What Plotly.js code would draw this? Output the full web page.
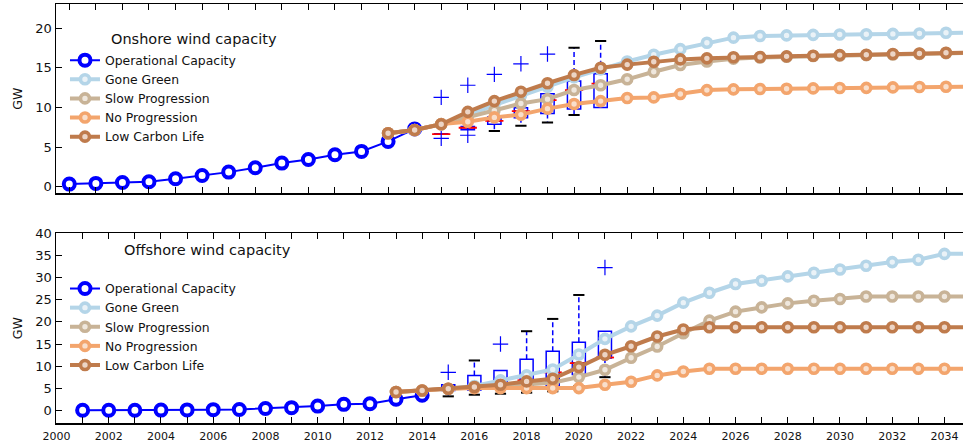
<!DOCTYPE html>
<html>
<head>
<meta charset="utf-8">
<script src="https://cdn.plot.ly/plotly-3.0.1.min.js"></script>
<style>
  html, body { margin: 0; padding: 0; background: #fff; }
  #chart { width: 963px; height: 446px; }
</style>
</head>
<body>
<div id="chart"></div>
<script>
// ---- data (GW) ----
const operationalYears = [2001, 2002, 2003, 2004, 2005, 2006, 2007, 2008, 2009, 2010, 2011, 2012, 2013, 2014];
const onshoreOperational = [0.34, 0.43, 0.55, 0.63, 1.01, 1.43, 1.85, 2.40, 2.99, 3.45, 4.04, 4.46, 5.72, 7.30];
const offshoreOperational = [0.0, 0.0, 0.02, 0.05, 0.1, 0.15, 0.2, 0.4, 0.6, 0.95, 1.35, 1.5, 2.5, 3.4];

const scenarioYears = [2013, 2014, 2015, 2016, 2017, 2018, 2019, 2020, 2021, 2022, 2023, 2024,
                       2025, 2026, 2027, 2028, 2029, 2030, 2031, 2032, 2033, 2034, 2035];

const onshoreGoneGreen = [6.75, 7.15, 7.9, 9.0, 10.3, 11.5, 12.6, 13.8, 14.8, 15.8, 16.65, 17.35,
                          18.15, 18.8, 19.0, 19.08, 19.15, 19.2, 19.22, 19.27, 19.32, 19.42, 19.45];
const onshoreSlowProgression = [6.75, 7.15, 7.9, 8.8, 9.6, 10.5, 11.05, 12.2, 12.8, 13.55, 14.5, 15.35,
                                15.8, 16.15, 16.3, 16.4, 16.48, 16.55, 16.6, 16.68, 16.75, 16.85, 16.88];
const onshoreNoProgression = [6.75, 7.15, 7.9, 8.2, 8.75, 9.1, 9.85, 10.43, 10.8, 11.2, 11.27, 11.69,
                              12.19, 12.28, 12.32, 12.36, 12.4, 12.45, 12.47, 12.53, 12.57, 12.61, 12.63];
const onshoreLowCarbonLife = [6.75, 7.15, 7.88, 9.45, 10.8, 11.98, 13.05, 14.1, 15.0, 15.4, 15.77, 16.06,
                              16.19, 16.32, 16.36, 16.44, 16.52, 16.6, 16.65, 16.73, 16.8, 16.9, 16.92];

const offshoreGoneGreen = [4.13, 4.5, 4.89, 5.5, 6.77, 7.9, 9.25, 12.63, 16.17, 19.0, 21.43, 24.36,
                           26.6, 28.58, 29.33, 30.3, 31.13, 31.88, 32.7, 33.54, 34.06, 35.4, 35.45];
const offshoreSlowProgression = [4.13, 4.5, 4.89, 5.2, 5.5, 5.8, 6.24, 7.52, 9.17, 11.88, 14.44, 17.44,
                                 20.3, 22.33, 23.3, 24.2, 24.8, 25.2, 25.75, 25.75, 25.75, 25.75, 25.75];
const offshoreNoProgression = [4.13, 4.5, 4.89, 5.03, 5.03, 5.03, 5.03, 5.03, 5.8, 6.47, 7.9, 8.8,
                               9.4, 9.4, 9.4, 9.4, 9.4, 9.4, 9.4, 9.4, 9.4, 9.4, 9.4];
const offshoreLowCarbonLife = [4.13, 4.5, 4.89, 5.27, 5.8, 6.54, 7.14, 9.78, 12.56, 14.5, 16.7, 18.27,
                               18.8, 18.8, 18.8, 18.8, 18.8, 18.8, 18.8, 18.8, 18.8, 18.8, 18.8];

// distribution of project-pipeline estimates per year
const boxYears = [2015, 2016, 2017, 2018, 2019, 2020, 2021];
const onshoreQ1 = [6.65, 7.19, 7.87, 8.7, 9.25, 9.8, 10.0];
const onshoreMedian = [6.65, 7.44, 8.3, 9.55, 10.93, 12.19, 13.0];
const onshoreQ3 = [6.7, 7.6, 8.79, 9.96, 11.73, 13.33, 14.25];
const onshoreLow = [6.65, 7.19, 7.02, 7.7, 8.12, 9.04, 10.0];
const onshoreHigh = [6.7, 7.6, 8.79, 9.96, 11.73, 17.53, 18.37];
const onshoreFlierYears = [2015, 2015, 2016, 2016, 2017, 2018, 2019];
const onshoreFliers = [6.1, 11.27, 6.5, 12.8, 14.17, 15.5, 16.73];

const offshoreQ1 = [4.5, 4.6, 4.8, 5.2, 5.5, 8.1, 11.85];
const offshoreMedian = [5.0, 5.3, 5.8, 6.8, 8.6, 10.68, 11.95];
const offshoreQ3 = [5.8, 7.9, 9.02, 11.58, 13.38, 15.4, 17.9];
const offshoreLow = [3.16, 3.53, 3.76, 4.0, 4.3, 5.5, 7.5];
const offshoreHigh = [5.8, 11.28, 9.02, 17.9, 20.68, 26.1, 17.9];
const offshoreFlierYears = [2015, 2017, 2021];
const offshoreFliers = [8.6, 15.0, 32.3];

const xTickYears = [2000, 2001, 2002, 2003, 2004, 2005, 2006, 2007, 2008, 2009, 2010, 2011,
                    2012, 2013, 2014, 2015, 2016, 2017, 2018, 2019, 2020, 2021, 2022, 2023,
                    2024, 2025, 2026, 2027, 2028, 2029, 2030, 2031, 2032, 2033, 2034];
const xTickLabels = ['2000', '', '2002', '', '2004', '', '2006', '', '2008', '', '2010', '',
                     '2012', '', '2014', '', '2016', '', '2018', '', '2020', '', '2022', '',
                     '2024', '', '2026', '', '2028', '', '2030', '', '2032', '', '2034'];
const yTicksOnshore = [0, 5, 10, 15, 20];
const yTicksOffshore = [0, 5, 10, 15, 20, 25, 30, 35, 40];

// ---- styling ----
const FONT = 'DejaVu Sans, Liberation Sans, sans-serif';
const BLUE = '#0000ff';
const scenarioStyle = [
  { name: 'Gone Green',       line: '#b4d5e8', fill: '#eaf2f7' },
  { name: 'Slow Progression', line: '#c8b397', fill: '#efe7dd' },
  { name: 'No Progression',   line: '#f3a56d', fill: '#f9dfcc' },
  { name: 'Low Carbon Life',  line: '#bf7b4c', fill: '#ecd5c6' }
];

function panelTraces(xa, ya, legendId, operational, scenarios, box) {
  const traces = [];

  // box bodies
  traces.push({
    type: 'box', x: boxYears, q1: box.q1, median: box.median, q3: box.q3,
    lowerfence: box.q1, upperfence: box.q3, width: 0.5, whiskerwidth: 0,
    line: { color: BLUE, width: 1.5 }, fillcolor: 'rgba(0,0,0,0)',
    xaxis: xa, yaxis: ya, showlegend: false, hoverinfo: 'skip', boxpoints: false
  });

  // dashed whiskers
  const wx = [], wy = [];
  boxYears.forEach((yr, i) => {
    if (box.high[i] > box.q3[i]) { wx.push(yr, yr, null); wy.push(box.q3[i], box.high[i], null); }
    if (box.low[i] < box.q1[i]) { wx.push(yr, yr, null); wy.push(box.q1[i], box.low[i], null); }
  });
  traces.push({
    type: 'scatter', mode: 'lines', x: wx, y: wy, connectgaps: false,
    line: { color: BLUE, width: 1.5, dash: '5px,3px' },
    xaxis: xa, yaxis: ya, showlegend: false, hoverinfo: 'skip'
  });

  // caps
  const cx = [], cy = [];
  boxYears.forEach((yr, i) => {
    if (box.high[i] > box.q3[i]) { cx.push(yr); cy.push(box.high[i]); }
    if (box.low[i] < box.q1[i]) { cx.push(yr); cy.push(box.low[i]); }
  });
  traces.push({
    type: 'scatter', mode: 'markers', x: cx, y: cy,
    marker: { symbol: 'line-ew', size: 8, line: { color: '#000', width: 2 } },
    xaxis: xa, yaxis: ya, showlegend: false, hoverinfo: 'skip'
  });

  // medians
  traces.push({
    type: 'scatter', mode: 'markers', x: boxYears, y: box.median,
    marker: { symbol: 'line-ew', size: 13, line: { color: '#ff0000', width: 1.8 } },
    xaxis: xa, yaxis: ya, showlegend: false, hoverinfo: 'skip'
  });

  // outliers
  traces.push({
    type: 'scatter', mode: 'markers', x: box.flierYears, y: box.fliers,
    marker: { symbol: 'cross-thin', size: 11, line: { color: BLUE, width: 1.2 } },
    xaxis: xa, yaxis: ya, showlegend: false, hoverinfo: 'skip'
  });

  // operational capacity
  traces.push({
    type: 'scatter', mode: 'lines+markers', name: 'Operational Capacity',
    x: operationalYears, y: operational,
    line: { color: BLUE, width: 2 },
    marker: { symbol: 'circle', size: 11, color: '#fff', line: { color: BLUE, width: 4 } },
    xaxis: xa, yaxis: ya, legend: legendId
  });

  // scenario projections
  scenarios.forEach((vals, k) => {
    const s = scenarioStyle[k];
    traces.push({
      type: 'scatter', mode: 'lines+markers', name: s.name,
      x: scenarioYears, y: vals,
      line: { color: s.line, width: 4 },
      marker: { symbol: 'circle', size: 9, color: s.fill, line: { color: s.line, width: 3.6 } },
      xaxis: xa, yaxis: ya, legend: legendId
    });
  });
  return traces;
}

const data = [].concat(
  panelTraces('x', 'y', 'legend', onshoreOperational,
    [onshoreGoneGreen, onshoreSlowProgression, onshoreNoProgression, onshoreLowCarbonLife],
    { q1: onshoreQ1, median: onshoreMedian, q3: onshoreQ3, low: onshoreLow, high: onshoreHigh,
      flierYears: onshoreFlierYears, fliers: onshoreFliers }),
  panelTraces('x2', 'y2', 'legend2', offshoreOperational,
    [offshoreGoneGreen, offshoreSlowProgression, offshoreNoProgression, offshoreLowCarbonLife],
    { q1: offshoreQ1, median: offshoreMedian, q3: offshoreQ3, low: offshoreLow, high: offshoreHigh,
      flierYears: offshoreFlierYears, fliers: offshoreFliers })
);

const axisCommon = {
  showgrid: false, zeroline: false, showline: true, linecolor: '#000', linewidth: 1.5,
  ticks: 'inside', ticklen: 6, tickwidth: 1, tickcolor: '#000'
};

const legendCommon = {
  xanchor: 'left', yanchor: 'top', bgcolor: 'rgba(0,0,0,0)', borderwidth: 0,
  font: { family: FONT, size: 12.4, color: '#111' }, itemsizing: 'trace'
};

const layout = {
  width: 963, height: 446,
  margin: { l: 56, r: 0, t: 4, b: 23, pad: 0 },
  paper_bgcolor: '#fff', plot_bgcolor: '#fff',
  font: { family: FONT, color: '#111' },
  boxmode: 'overlay',
  xaxis: Object.assign({}, axisCommon, {
    domain: [0, 1], anchor: 'y', range: [2000.5, 2034.64], mirror: 'ticks',
    tickmode: 'array', tickvals: xTickYears, showticklabels: false
  }),
  yaxis: Object.assign({}, axisCommon, {
    domain: [0.548, 1], anchor: 'x', range: [-0.83, 23.04],
    tickmode: 'array', tickvals: yTicksOnshore, ticklabelstandoff: 0,
    tickfont: { family: FONT, size: 13, color: '#111' },
    title: { text: 'GW', standoff: 10, font: { family: FONT, size: 12.5, color: '#111' } }
  }),
  xaxis2: Object.assign({}, axisCommon, {
    domain: [0, 1], anchor: 'y2', range: [1999.98, 2034.71], mirror: 'ticks',
    tickmode: 'array', tickvals: xTickYears, ticktext: xTickLabels,
    tickfont: { family: FONT, size: 11, color: '#111' }, ticklabelstandoff: 2
  }),
  yaxis2: Object.assign({}, axisCommon, {
    domain: [0, 0.4527], anchor: 'x2', range: [-2.87, 40.05],
    tickmode: 'array', tickvals: yTicksOffshore, ticklabelstandoff: 0,
    tickfont: { family: FONT, size: 13, color: '#111' },
    title: { text: 'GW', standoff: 10, font: { family: FONT, size: 12.5, color: '#111' } }
  }),
  legend: Object.assign({}, legendCommon, { x: 0.0099, y: 0.9007 }),
  legend2: Object.assign({}, legendCommon, { x: 0.0099, y: 0.3557 }),
  annotations: [
    { text: 'Onshore wind capacity', xref: 'paper', yref: 'paper', x: 0.1527, y: 0.9158,
      xanchor: 'center', yanchor: 'middle', showarrow: false,
      font: { family: FONT, size: 14.5, color: '#111' } },
    { text: 'Offshore wind capacity', xref: 'paper', yref: 'paper', x: 0.167, y: 0.4129,
      xanchor: 'center', yanchor: 'middle', showarrow: false,
      font: { family: FONT, size: 14.5, color: '#111' } }
  ],
  showlegend: true
};

Plotly.newPlot('chart', data, layout, { staticPlot: true, displayModeBar: false });
</script>
</body>
</html>
